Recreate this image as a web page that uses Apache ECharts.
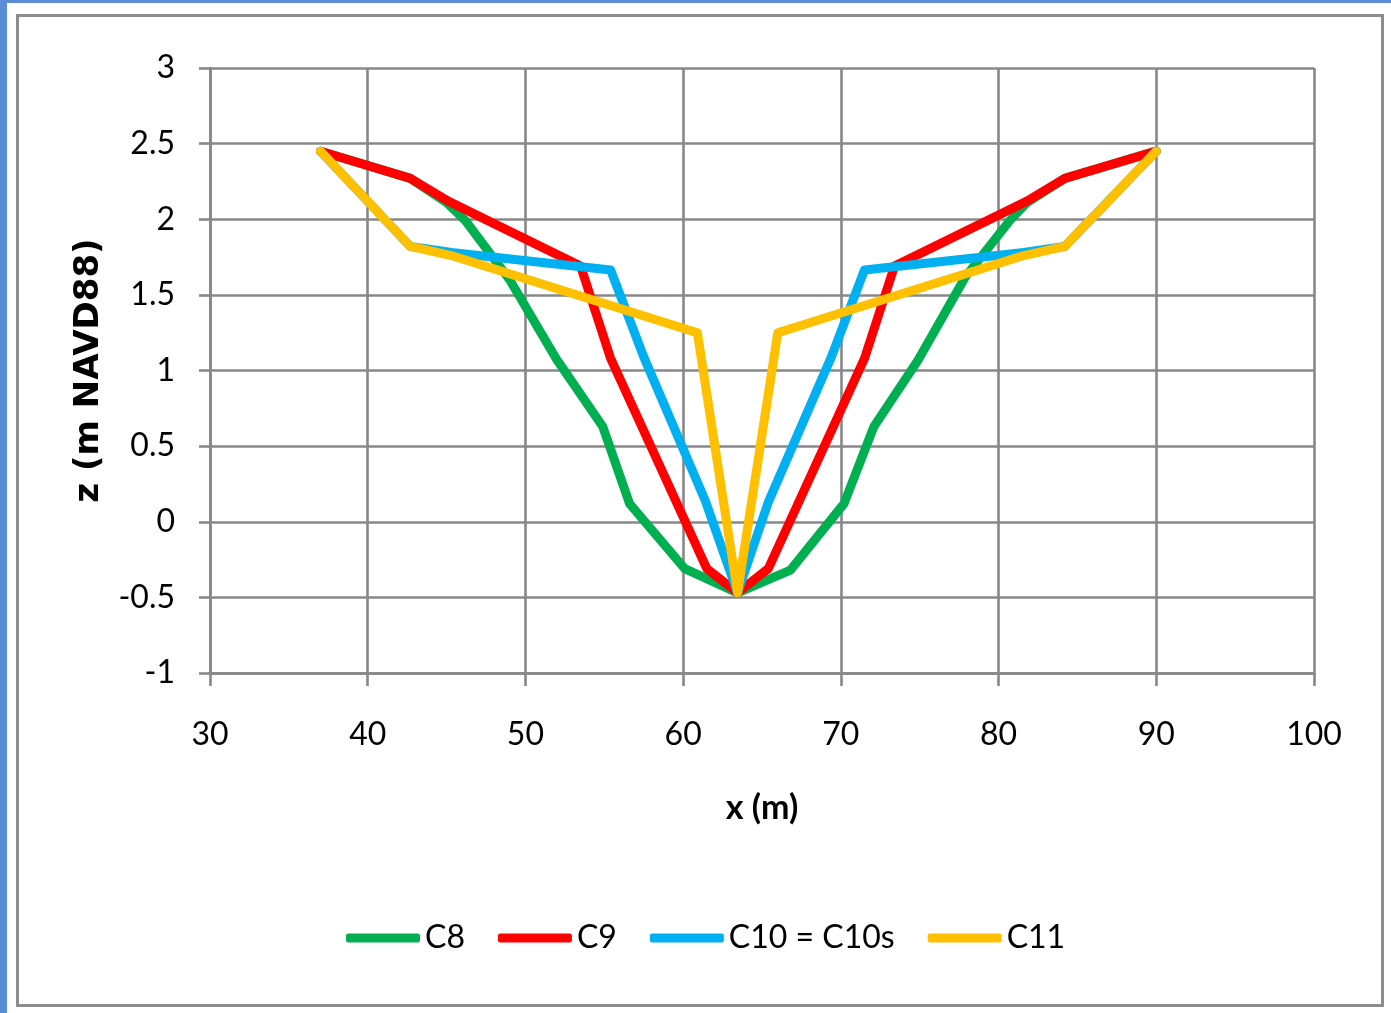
<!DOCTYPE html>
<html>
<head>
<meta charset="utf-8">
<script src="https://cdn.jsdelivr.net/npm/echarts@6/dist/echarts.min.js"></script>
<style>
  html, body { margin: 0; padding: 0; background: #ffffff; }
  #chart { width: 1391px; height: 1013px; }
</style>
</head>
<body>
<div id="chart"></div>
<script>
// Channel cross-section profiles: [station x (m), elevation z (m NAVD88)]
const c8 = [
  [37, 2.45], [42.7, 2.27], [45.0, 2.11], [46.2, 1.99], [49.0, 1.60], [52.0, 1.07],
  [54.9, 0.63], [56.6, 0.12], [60.1, -0.31], [63.45, -0.47], [66.8, -0.32],
  [70.2, 0.12], [72.1, 0.63], [74.9, 1.07], [77.9, 1.62], [80.7, 1.99],
  [81.8, 2.11], [84.2, 2.27], [90, 2.45]
];
const c9 = [
  [37, 2.45], [42.7, 2.27], [45.1, 2.12], [53.5, 1.69], [55.4, 1.08],
  [61.5, -0.31], [63.45, -0.47], [65.4, -0.31], [71.5, 1.08], [73.4, 1.69],
  [81.8, 2.12], [84.2, 2.27], [90, 2.45]
];
const c10 = [
  [37, 2.45], [42.7, 1.82], [45.3, 1.78], [55.4, 1.665], [57.5, 1.09],
  [61.4, 0.14], [63.45, -0.47], [65.4, 0.13], [69.4, 1.09], [71.5, 1.665],
  [81.6, 1.78], [84.2, 1.82], [90, 2.45]
];
const c11 = [
  [37, 2.45], [42.7, 1.82], [45.3, 1.76], [60.9, 1.25], [63.45, -0.47],
  [66.0, 1.25], [81.6, 1.76], [84.2, 1.82], [90, 2.45]
];

const seriesNames = ['C8', 'C9', 'C10 = C10s', 'C11'];
const seriesColors = ['#00B050', '#FF0000', '#00B0F0', '#FFC000'];
const profiles = [c8, c9, c10, c11];

// Axis tick values
const xTicks = [30, 40, 50, 60, 70, 80, 90, 100];
const yTicks = [-1, -0.5, 0, 0.5, 1, 1.5, 2, 2.5, 3];

const gridGray = '#888888';
const tickFont = 'Lato, "Noto Sans", sans-serif';

const chart = echarts.init(document.getElementById('chart'), null, { renderer: 'canvas' });

chart.setOption({
  animation: false,
  backgroundColor: '#ffffff',
  graphic: [
    { type: 'rect', shape: { x: 0, y: 0, width: 7, height: 1013 }, style: { fill: '#5B8DD6' }, z: 0 },
    { type: 'rect', shape: { x: 0, y: 0, width: 1391, height: 3 }, style: { fill: '#5B8DD6' }, z: 0 },
    { type: 'rect', shape: { x: 17.5, y: 15.5, width: 1365, height: 990 },
      style: { fill: 'none', stroke: '#8c8c8c', lineWidth: 3 }, z: 0 }
  ],
  grid: { left: 210, right: 77, top: 68, bottom: 340, containLabel: false },
  legend: {
    data: seriesNames,
    left: 341,
    top: 917,
    orient: 'horizontal',
    icon: 'roundRect',
    itemWidth: 74,
    itemHeight: 9,
    itemGap: 33,
    textStyle: { fontFamily: tickFont, fontSize: 32, color: '#000000', padding: [0, 0, 0, 0] }
  },
  xAxis: {
    type: 'value',
    min: xTicks[0],
    max: xTicks[xTicks.length - 1],
    interval: xTicks[1] - xTicks[0],
    name: 'x (m)',
    nameLocation: 'middle',
    nameGap: 118,
    nameTextStyle: { fontFamily: tickFont, fontWeight: 'bold', fontSize: 34, color: '#000000' },
    axisLine: { show: true, onZero: false, lineStyle: { color: gridGray, width: 2.6 } },
    axisTick: { show: true, length: 13, lineStyle: { color: gridGray, width: 2.6 } },
    axisLabel: { margin: 46, fontFamily: tickFont, fontSize: 32, color: '#000000' },
    splitLine: { show: true, lineStyle: { color: gridGray, width: 2.6 } }
  },
  yAxis: {
    type: 'value',
    min: yTicks[0],
    max: yTicks[yTicks.length - 1],
    interval: yTicks[1] - yTicks[0],
    name: 'z (m NAVD88)',
    nameLocation: 'middle',
    nameRotate: 90,
    nameGap: 104,
    nameTextStyle: { fontFamily: '"DejaVu Sans", sans-serif', fontWeight: 'bold', fontSize: 34, color: '#000000' },
    axisLine: { show: true, onZero: false, lineStyle: { color: gridGray, width: 2.6 } },
    axisTick: { show: true, length: 11, lineStyle: { color: gridGray, width: 2.6 } },
    axisLabel: { margin: 35, fontFamily: tickFont, fontSize: 32, color: '#000000' },
    splitLine: { show: true, lineStyle: { color: gridGray, width: 2.6 } }
  },
  series: profiles.map((data, i) => ({
    name: seriesNames[i],
    type: 'line',
    data: data,
    symbol: 'none',
    showSymbol: false,
    color: seriesColors[i],
    lineStyle: { color: seriesColors[i], width: 9, cap: 'round', join: 'round' },
    z: 2 + i
  }))
});
</script>
</body>
</html>
